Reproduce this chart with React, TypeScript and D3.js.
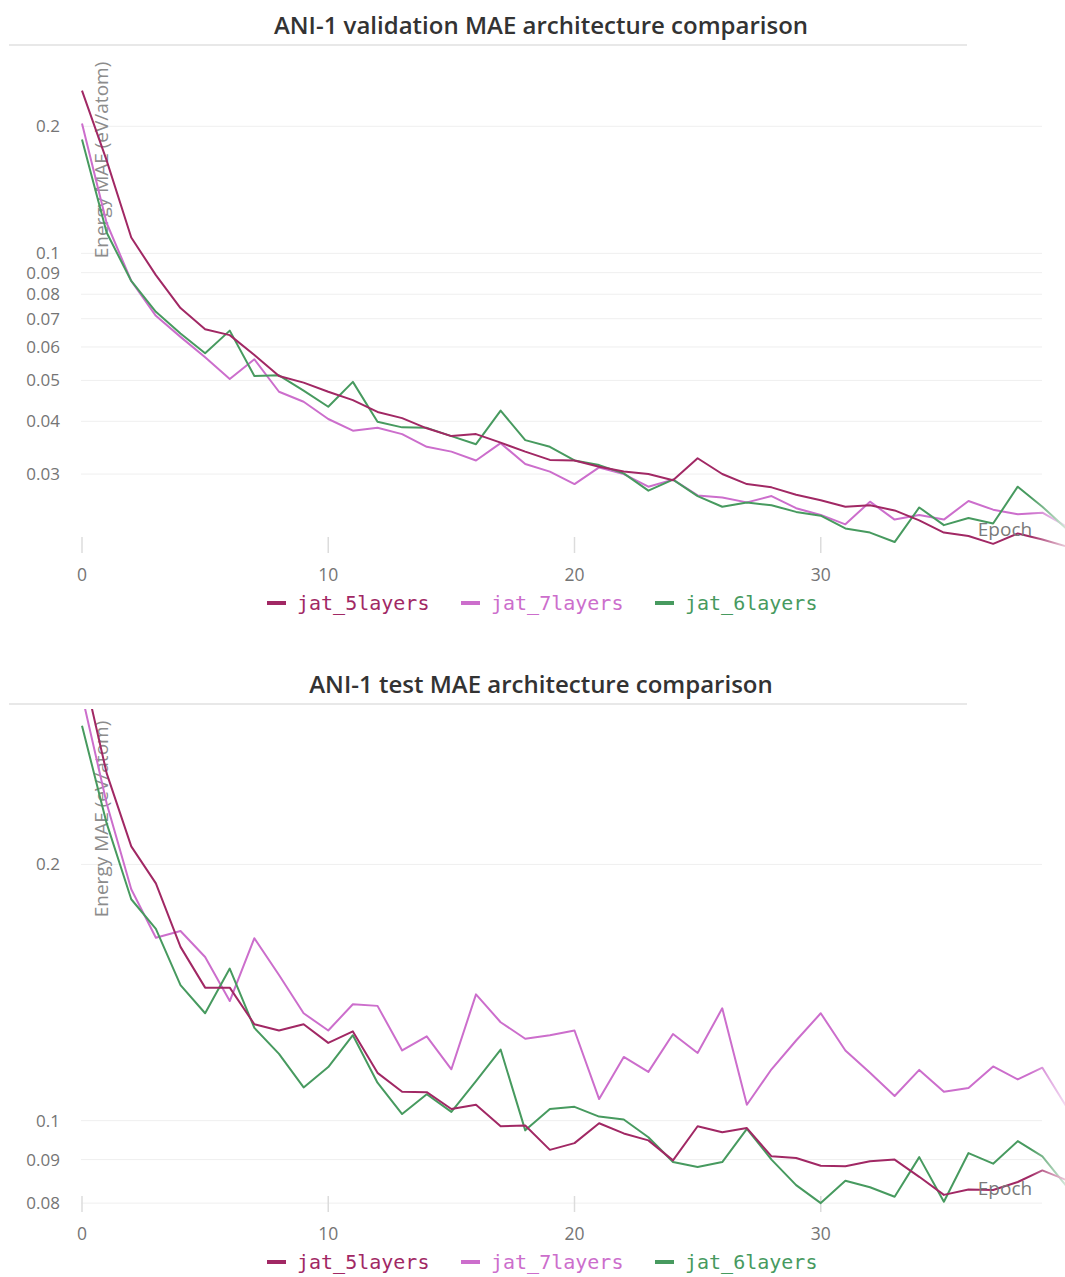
import React from "react";
import * as d3 from "d3";

const seriesNames = ["jat_5layers", "jat_7layers", "jat_6layers"];
const seriesColors = ["#A12864", "#CC6ECC", "#479A5F"];

// Validation MAE (eV/atom) per epoch
const val5layers = [0.243, 0.166, 0.109, 0.0888, 0.0742, 0.0661, 0.064, 0.0574, 0.0512, 0.0494, 0.047, 0.0449, 0.0421, 0.0407, 0.0385, 0.0369, 0.0373, 0.0356, 0.0339, 0.0324, 0.0323, 0.0312, 0.0304, 0.030, 0.029, 0.0327, 0.030, 0.0284, 0.0279, 0.0268, 0.026, 0.0251, 0.0253, 0.0246, 0.0233, 0.0218, 0.0214, 0.0205, 0.0217, 0.021, 0.0202];
const val7layers = [0.203, 0.118, 0.086, 0.0711, 0.0634, 0.0567, 0.0504, 0.0561, 0.047, 0.0445, 0.0405, 0.038, 0.0386, 0.0373, 0.0348, 0.0339, 0.0323, 0.0355, 0.0317, 0.0304, 0.0284, 0.0311, 0.030, 0.028, 0.0291, 0.0267, 0.0264, 0.0257, 0.0266, 0.0249, 0.024, 0.0228, 0.0258, 0.0234, 0.024, 0.0234, 0.0259, 0.0247, 0.0241, 0.0243, 0.0225];
const val6layers = [0.186, 0.112, 0.086, 0.0727, 0.0646, 0.058, 0.0656, 0.0512, 0.0514, 0.0473, 0.0433, 0.0496, 0.0399, 0.0387, 0.0386, 0.0369, 0.0353, 0.0424, 0.0361, 0.0348, 0.0323, 0.0315, 0.0301, 0.0274, 0.0291, 0.0266, 0.0251, 0.0257, 0.0253, 0.0244, 0.0239, 0.0223, 0.0218, 0.0207, 0.025, 0.0227, 0.0236, 0.0229, 0.028, 0.0251, 0.0222];

// Test MAE (eV/atom) per epoch
const test5layers = [0.343, 0.256, 0.210, 0.190, 0.160, 0.1433, 0.1433, 0.1298, 0.1276, 0.1298, 0.1234, 0.1273, 0.1138, 0.1081, 0.108, 0.1032, 0.1044, 0.0985, 0.0987, 0.0924, 0.0941, 0.0993, 0.0966, 0.0948, 0.0898, 0.0985, 0.0969, 0.098, 0.0908, 0.0904, 0.0885, 0.0884, 0.0896, 0.090, 0.0859, 0.0818, 0.083, 0.0829, 0.0847, 0.0874, 0.0851];
const test7layers = [0.316, 0.236, 0.187, 0.164, 0.167, 0.1557, 0.1382, 0.1638, 0.1483, 0.1337, 0.1276, 0.137, 0.1364, 0.1209, 0.1256, 0.1149, 0.1407, 0.1305, 0.1248, 0.126, 0.1276, 0.106, 0.1188, 0.1141, 0.1264, 0.1201, 0.1355, 0.1044, 0.1149, 0.1242, 0.1337, 0.1209, 0.1138, 0.1069, 0.1147, 0.1081, 0.1092, 0.1158, 0.1118, 0.1154, 0.1036];
const test6layers = [0.291, 0.2236, 0.182, 0.168, 0.1443, 0.1337, 0.1509, 0.1285, 0.1198, 0.1094, 0.1156, 0.126, 0.1108, 0.1018, 0.1074, 0.1024, 0.1113, 0.1212, 0.0974, 0.1032, 0.1038, 0.1011, 0.1003, 0.0956, 0.0894, 0.0882, 0.0894, 0.0978, 0.090, 0.084, 0.080, 0.085, 0.0835, 0.0814, 0.0906, 0.0803, 0.0916, 0.089, 0.0946, 0.0908, 0.0836];

const xTicks = [0, 10, 20, 30];
const valYTicks = [0.2, 0.1, 0.09, 0.08, 0.07, 0.06, 0.05, 0.04, 0.03];
const testYTicks = [0.2, 0.1, 0.09, 0.08];
const valDomain = [0.0195, 0.3032];
const testDomain = [0.0781, 0.3045];

const W = 1065;
const H = 1277;

type PanelProps = {
  id: string;
  top: number;
  title: string;
  series: number[][];
  yTicks: number[];
  domain: number[];
};

const tickFont = "'Open Sans', 'Noto Sans', sans-serif";

function Panel({ id, top, title, series, yTicks, domain }: PanelProps) {
  const plotTop = top + 50;
  const plotBottom = top + 553;
  const x = d3.scaleLinear().domain([0, 40]).range([82, 1067]);
  const y = d3.scaleLog().domain(domain).range([plotBottom, plotTop]);
  const line = d3
    .line<number>()
    .x((_, i) => x(i))
    .y((d) => y(d));
  const legendX = [267, 461, 655];
  return (
    <g>
      <defs>
        <clipPath id={`clip-${id}`}>
          <rect x={70} y={plotTop} width={W - 70} height={plotBottom - plotTop} />
        </clipPath>
        <linearGradient id={`fade-${id}`} x1="0" x2={W} y1="0" y2="0" gradientUnits="userSpaceOnUse">
          <stop offset={1030 / W} stopColor="#fff" stopOpacity={1} />
          <stop offset={1} stopColor="#fff" stopOpacity={0.25} />
        </linearGradient>
        <mask id={`mask-${id}`} maskUnits="userSpaceOnUse" x={0} y={0} width={W} height={H}>
          <rect x={0} y={0} width={W} height={H} fill={`url(#fade-${id})`} />
        </mask>
      </defs>
      <text
        x={541}
        y={top + 34}
        textAnchor="middle"
        fontFamily={tickFont}
        fontWeight={600}
        fontSize={24}
        fill="#333"
      >
        {title}
      </text>
      <line x1={9} x2={967} y1={top + 45} y2={top + 45} stroke="#e8e8e8" strokeWidth={2} />
      {yTicks.map((t) => (
        <g key={t}>
          <line x1={81} x2={1042} y1={y(t)} y2={y(t)} stroke="#efefef" strokeWidth={1} />
          <text
            x={60}
            y={y(t)}
            dy="0.35em"
            textAnchor="end"
            fontFamily={tickFont}
            fontSize={17}
            fill="#757575"
          >
            {String(t)}
          </text>
        </g>
      ))}
      {xTicks.map((t) => (
        <g key={t}>
          <line x1={x(t)} x2={x(t)} y1={plotBottom - 16} y2={plotBottom} stroke="#dcdcdc" strokeWidth={1.5} />
          <text
            x={x(t)}
            y={plotBottom + 28}
            textAnchor="middle"
            fontFamily={tickFont}
            fontSize={17.5}
            fill="#757575"
          >
            {t}
          </text>
        </g>
      ))}
      <text
        transform={`translate(108, ${top + 160}) rotate(-90)`}
        textAnchor="middle"
        fontFamily={tickFont}
        fontSize={19}
        fill="#8c8c8c"
      >
        Energy MAE (eV/atom)
      </text>
      <g clipPath={`url(#clip-${id})`} mask={`url(#mask-${id})`}>
        {[series[1], series[2], series[0]].map((s, k) => {
          const idx = [1, 2, 0][k];
          return (
            <path
              key={idx}
              d={line(s) || ""}
              fill="none"
              stroke={seriesColors[idx]}
              strokeWidth={2}
              strokeLinejoin="round"
            />
          );
        })}
      </g>
      <text
        x={1005}
        y={plotBottom - 17}
        textAnchor="middle"
        fontFamily={tickFont}
        fontSize={19}
        fill="#7a7a7a"
      >
        Epoch
      </text>
      {seriesNames.map((name, i) => (
        <g key={name}>
          <line
            x1={legendX[i]}
            x2={legendX[i] + 19}
            y1={top + 603}
            y2={top + 603}
            stroke={seriesColors[i]}
            strokeWidth={4}
          />
          <text
            x={legendX[i] + 30}
            y={top + 610}
            fontFamily="'DejaVu Sans Mono', monospace"
            fontSize={20}
            fill={seriesColors[i]}
          >
            {name}
          </text>
        </g>
      ))}
    </g>
  );
}

export default function App() {
  return (
    <div style={{ position: "absolute", left: 0, top: 0, background: "#fff" }}>
      <svg width={W} height={H} viewBox={`0 0 ${W} ${H}`} style={{ display: "block" }}>
        <rect x={0} y={0} width={W} height={H} fill="#fff" />
        <Panel
          id="val"
          top={0}
          title="ANI-1 validation MAE architecture comparison"
          series={[val5layers, val7layers, val6layers]}
          yTicks={valYTicks}
          domain={valDomain}
        />
        <Panel
          id="test"
          top={659}
          title="ANI-1 test MAE architecture comparison"
          series={[test5layers, test7layers, test6layers]}
          yTicks={testYTicks}
          domain={testDomain}
        />
      </svg>
    </div>
  );
}
